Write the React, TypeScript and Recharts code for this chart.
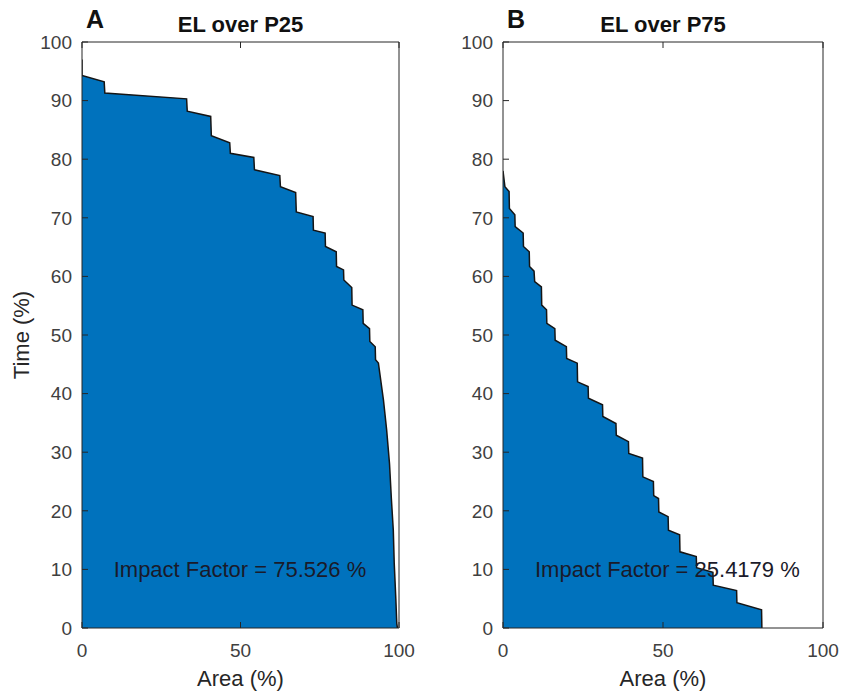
import React from "react";
import { AreaChart, Area, XAxis, YAxis, ReferenceDot, Label } from "recharts";

// axis ticks
const areaTicks = [0, 50, 100];
const timeTicks = [0, 10, 20, 30, 40, 50, 60, 70, 80, 90, 100];

// panel A: EL over P25 (area %, time %)
const areaP25 = [
  0, 0, 7.0, 7.2, 33.0, 33.2, 40.6, 40.8, 46.6, 46.8, 54.2, 54.4, 62.4, 62.6,
  67.4, 67.6, 72.9, 73.0, 76.7, 76.8, 80.2, 80.3, 82.5, 82.6, 85.1, 85.2, 88.6,
  88.7, 90.7, 90.8, 92.5, 92.6, 93.5, 95.1, 96.1, 97.0, 97.6, 98.2, 98.5, 99.0,
  99.3, 99.5,
];
const timeP25 = [
  97.0, 94.3, 93.2, 91.3, 90.3, 88.2, 87.3, 84.0, 82.8, 81.0, 80.3, 78.2, 77.2,
  75.3, 74.3, 71.0, 70.2, 67.9, 67.4, 65.1, 64.2, 61.7, 61.1, 59.4, 58.1, 55.1,
  54.3, 52.0, 51.1, 48.9, 48.0, 45.8, 45.2, 38.9, 33.8, 28.1, 22.0, 16.7, 11.0,
  5.0, 0.8, 0,
];

// panel B: EL over P75
const areaP75 = [
  0, 0.6, 1.9, 2.0, 3.7, 3.8, 6.3, 6.4, 8.2, 8.3, 9.7, 9.9, 12.0, 12.1, 13.6,
  13.7, 16.2, 16.3, 19.8, 19.9, 23.2, 23.3, 26.6, 26.7, 31.1, 31.2, 35.3, 35.4,
  39.2, 39.3, 43.6, 43.7, 47.0, 47.1, 48.6, 48.7, 51.6, 51.7, 55.2, 55.3, 60.4,
  60.5, 65.6, 65.7, 73.0, 73.1, 80.8, 80.9,
];
const timeP75 = [
  78.0, 75.3, 74.5, 71.6, 70.5, 68.5, 67.4, 65.1, 64.2, 61.7, 60.9, 59.1, 58.2,
  55.1, 54.3, 52.0, 51.1, 49.1, 48.0, 46.0, 45.2, 42.0, 41.2, 39.2, 38.1, 36.1,
  34.9, 32.9, 31.8, 29.8, 29.0, 25.8, 25.0, 22.6, 22.1, 19.8, 19.0, 16.7, 15.9,
  13.0, 12.2, 10.3, 9.5, 7.3, 6.4, 4.3, 3.1, 0,
];

const impactP25 = 75.526;
const impactP75 = 25.4179;

const FONT = '"Liberation Sans", Arial, Helvetica, sans-serif';
const BLUE = "#0072BD";
const AXIS = "#262626";

const zip = (xs: number[], ys: number[]) => xs.map((x, i) => ({ x, y: ys[i] }));

const noTick = () => <g />;

type PanelProps = {
  data: { x: number; y: number }[];
  title: string;
  letter: string;
  impact: number;
  showYLabel: boolean;
  width: number;
  leftW: number;
};

const Panel = ({ data, title, letter, impact, showYLabel, width, leftW }: PanelProps) => {
  const tickStyle = { fontSize: 19, fill: "#404040", fontFamily: FONT };
  return (
    <AreaChart
      width={width}
      height={695}
      data={data}
      margin={{ top: 0, right: 0, bottom: 0, left: 0 }}
    >
      <XAxis
        dataKey="x"
        type="number"
        domain={[0, 100]}
        ticks={areaTicks}
        interval={0}
        height={67}
        tickSize={-6}
        tickMargin={22}
        tick={tickStyle}
        stroke={AXIS}
        allowDataOverflow
      >
        <Label
          content={(p: any) => {
            const vb = p.viewBox || {};
            return (
              <text
                x={vb.x + vb.width / 2}
                y={vb.y + 58}
                textAnchor="middle"
                fontSize={22}
                fill="#262626"
                fontFamily={FONT}
              >
                Area (%)
              </text>
            );
          }}
        />
      </XAxis>
      <XAxis
        xAxisId="top"
        dataKey="x"
        type="number"
        orientation="top"
        domain={[0, 100]}
        ticks={areaTicks}
        interval={0}
        height={42}
        tickSize={-6}
        tick={noTick}
        stroke={AXIS}
      >
        <Label
          content={(p: any) => {
            const vb = p.viewBox || {};
            const base = vb.y + vb.height;
            return (
              <g fontFamily={FONT} fontWeight="bold" fill="#111">
                <text x={vb.x + vb.width / 2} y={base - 10} textAnchor="middle" fontSize={22}>
                  {title}
                </text>
                <text x={vb.x + 4} y={base - 14} textAnchor="start" fontSize={25}>
                  {letter}
                </text>
              </g>
            );
          }}
        />
      </XAxis>
      <YAxis
        type="number"
        domain={[0, 100]}
        ticks={timeTicks}
        interval={0}
        width={leftW}
        tickSize={-6}
        tickMargin={16}
        tick={tickStyle}
        stroke={AXIS}
      >
        {showYLabel && (
          <Label
            content={(p: any) => {
              const vb = p.viewBox || {};
              const cx = vb.x + vb.width - 53;
              const cy = vb.y + vb.height / 2;
              return (
                <text
                  x={cx}
                  y={cy}
                  textAnchor="middle"
                  transform={`rotate(-90, ${cx}, ${cy})`}
                  fontSize={22}
                  fill="#262626"
                  fontFamily={FONT}
                >
                  Time (%)
                </text>
              );
            }}
          />
        )}
      </YAxis>
      <YAxis
        yAxisId="right"
        orientation="right"
        type="number"
        domain={[0, 100]}
        ticks={timeTicks}
        interval={0}
        width={21}
        tickSize={-6}
        tick={noTick}
        stroke={AXIS}
      />
      <Area
        type="linear"
        dataKey="y"
        fill={BLUE}
        fillOpacity={1}
        stroke="#151515"
        strokeWidth={1.5}
        dot={false}
        activeDot={false}
        isAnimationActive={false}
      />
      <ReferenceDot
        x={10}
        y={10}
        r={0}
        fill="none"
        stroke="none"
        label={{
          value: `Impact Factor = ${impact} %`,
          position: "right",
          offset: 0,
          fontSize: 22,
          fill: "#1a1a2a",
          fontFamily: FONT,
        }}
      />
    </AreaChart>
  );
};

export default function App() {
  return (
    <div
      style={{
        position: "absolute",
        left: 0,
        top: 0,
        width: 844,
        height: 695,
        background: "#fff",
        fontFamily: FONT,
      }}
    >
      <div style={{ position: "absolute", left: 0, top: 0 }}>
        <Panel
          data={zip(areaP25, timeP25)}
          title="EL over P25"
          letter="A"
          impact={impactP25}
          showYLabel
          width={420}
          leftW={82}
        />
      </div>
      <div style={{ position: "absolute", left: 420, top: 0 }}>
        <Panel
          data={zip(areaP75, timeP75)}
          title="EL over P75"
          letter="B"
          impact={impactP75}
          showYLabel={false}
          width={424}
          leftW={83}
        />
      </div>
    </div>
  );
}
